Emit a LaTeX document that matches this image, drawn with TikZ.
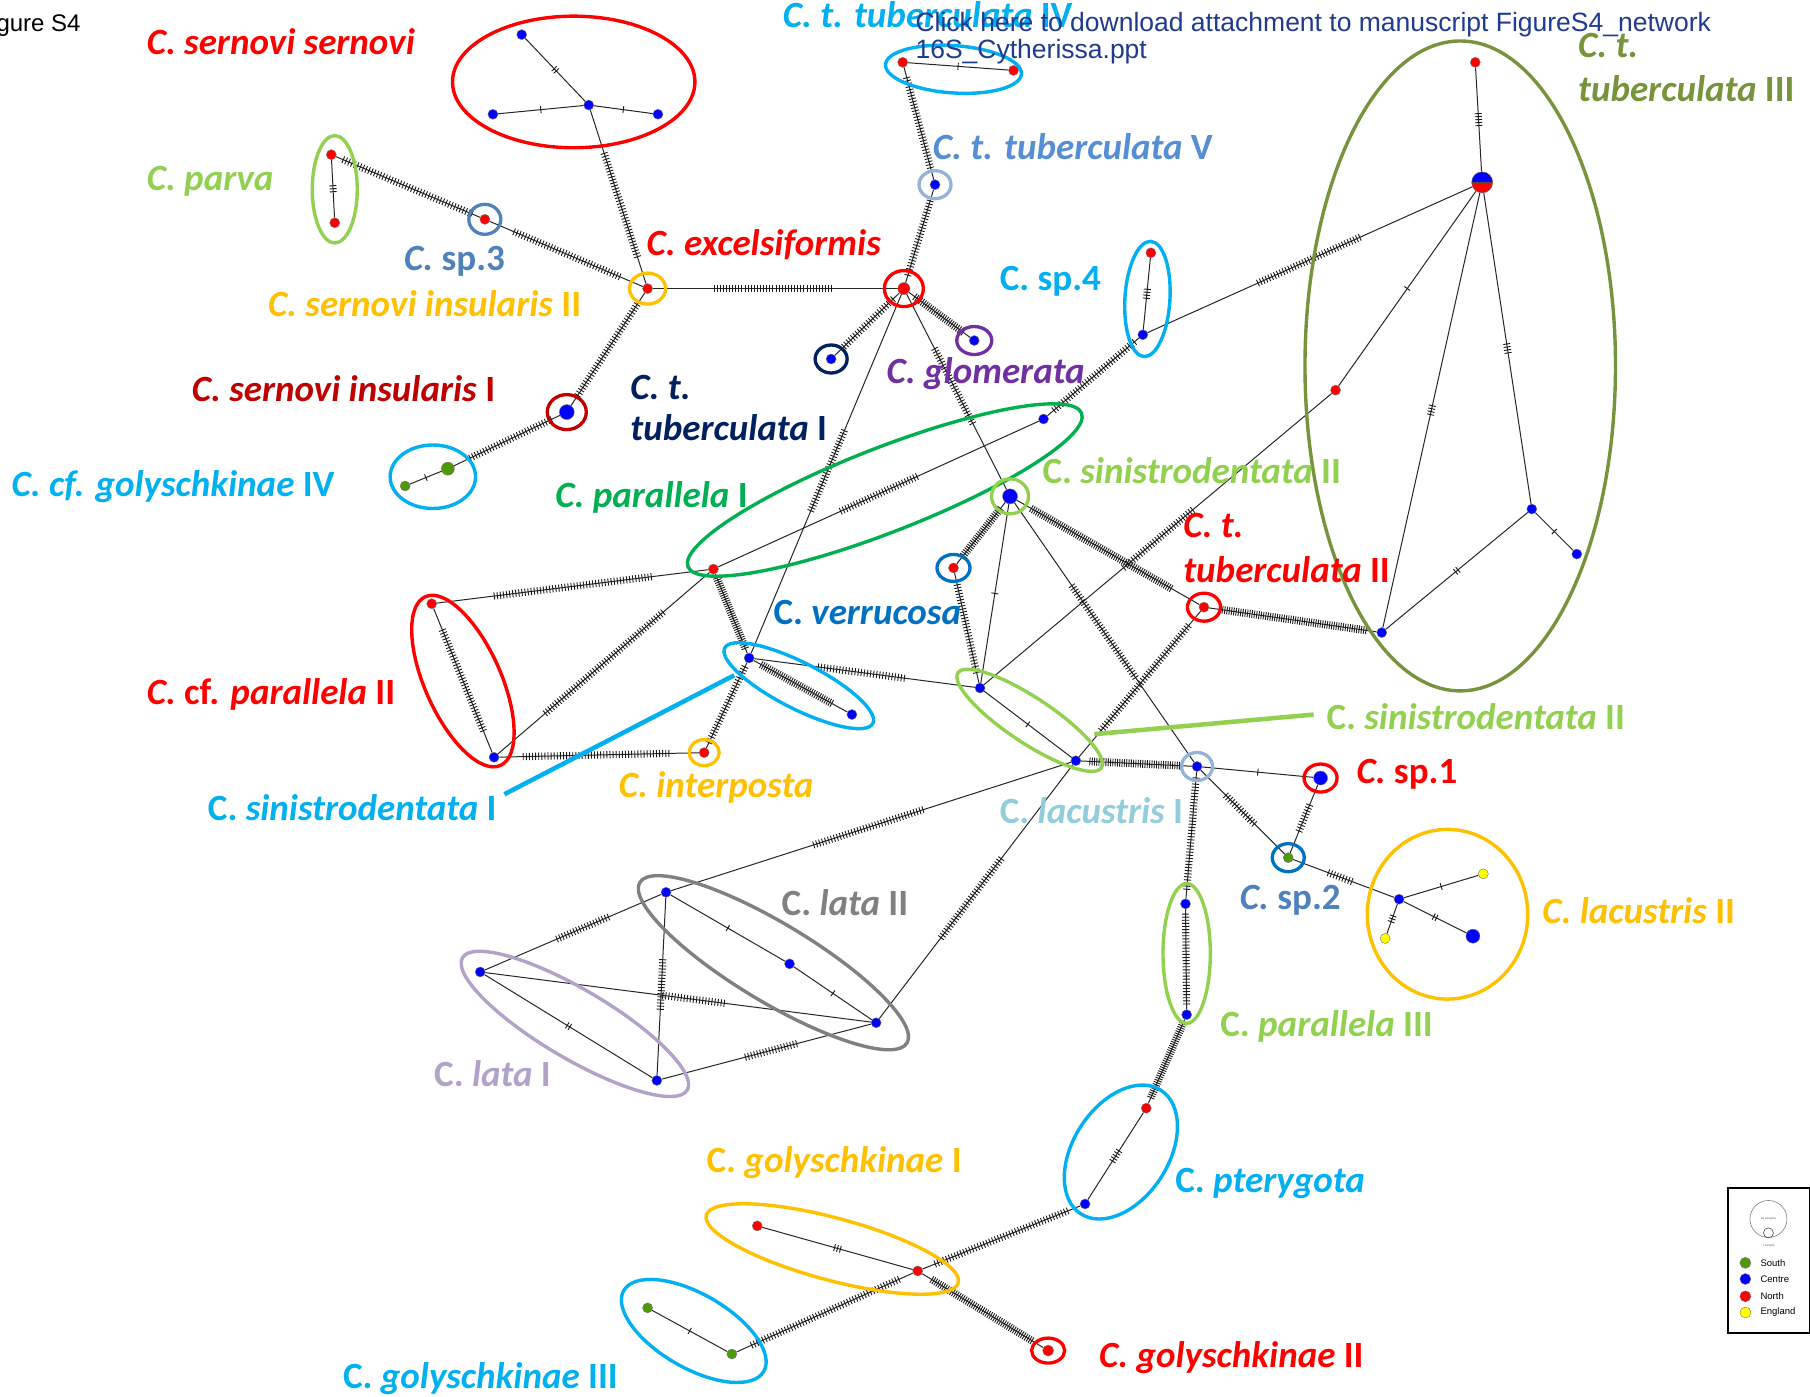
\documentclass[tikz,border=0pt]{standalone}
\usepackage{fontspec}
\setmainfont{Carlito}
\newfontfamily\arialf{Liberation Sans}
\usetikzlibrary{shapes.geometric,decorations.markings,backgrounds}
\definecolor{cRed}{HTML}{FF0000}
\definecolor{cDRed}{HTML}{C00000}
\definecolor{cOrange}{HTML}{FFC000}
\definecolor{cYG}{HTML}{92D050}
\definecolor{cGreen}{HTML}{00B050}
\definecolor{cOlive}{HTML}{77933C}
\definecolor{cSky}{HTML}{00B0F0}
\definecolor{cBlue}{HTML}{0070C0}
\definecolor{cSteel}{HTML}{4F81BD}
\definecolor{cSteelL}{HTML}{558ED5}
\definecolor{cRingL}{HTML}{95B3D7}
\definecolor{cLac}{HTML}{92CDDC}
\definecolor{cNavy}{HTML}{002060}
\definecolor{cPurple}{HTML}{7030A0}
\definecolor{cGray}{HTML}{808080}
\definecolor{cLav}{HTML}{B3A2C7}
\definecolor{hBlue}{HTML}{0000FF}
\definecolor{hRed}{HTML}{FF0000}
\definecolor{hGreen}{HTML}{4E9A06}
\definecolor{hYellow}{HTML}{FFFF00}
\definecolor{cLink}{HTML}{203A8F}
\newcommand\labf{\fontsize{37}{44}\selectfont\bfseries}
\begin{document}
\begin{tikzpicture}[x=1.1543pt,y=-1.1543pt,
  hap/.style={circle, fill=#1, draw=black!55, line width=0.4pt, inner sep=0pt, minimum size=10pt},
  ring/.style={ellipse, draw=#1, line width=3.3pt, inner sep=0pt},
  ell/.style={draw=#1, line width=3.4pt},
  ln/.style={draw=black!85, line width=1pt},
  tkl/.style={line width=0.9pt, draw=black!90},
  tk/.style={ln, postaction={decorate, decoration={markings, mark=at position 0.5 with {\foreach \k in {1,...,#1}{\draw[tkl] ({(\k-(#1+1)/2)*3pt},-3.5pt) -- ++(0pt,7pt);}}}}},
  hs/.style 2 args={ln, postaction={decorate, decoration={markings, mark=between positions #1 and #2 step 3.1pt with {\draw[tkl] (0pt,-3.6pt) -- (0pt,3.6pt);}}}},
  hst/.style 2 args={ln, postaction={decorate, decoration={markings, mark=between positions #1 and #2 step 2.3pt with {\draw[tkl] (0pt,-3.9pt) -- (0pt,3.9pt);}}}},
  lab/.style={anchor=base west, inner sep=0pt, font=\labf, text=#1},
  ptr/.style={draw=#1, line width=4.5pt}
]
\useasboundingbox (0,0) rectangle (1568,1210);

% ---------------- haplotype nodes ----------------
\node[hap=hBlue] (ss_top) at (452,30) {};
\node[hap=hBlue] (ss_c) at (510,91) {};
\node[hap=hBlue] (ss_l) at (427,99) {};
\node[hap=hBlue] (ss_r) at (570,99) {};
\node[hap=hRed] (parva_t) at (287,134) {};
\node[hap=hRed] (parva_b) at (290,193) {};
\node[hap=hRed] (sp3) at (420,190) {};
\node[hap=hRed] (sinsII) at (561,250) {};
\node[hap=hBlue, minimum size=15pt] (sinsI) at (491,357) {};
\node[hap=hGreen, minimum size=13pt] (gIV_a) at (388,406) {};
\node[hap=hGreen] (gIV_b) at (351,421) {};
\node[hap=hRed, minimum size=12pt] (exc) at (783,250) {};
\node[hap=hBlue] (tV) at (810,160) {};
\node[hap=hRed] (tIV_a) at (782,54) {};
\node[hap=hRed] (tIV_b) at (878,61) {};
\node[hap=hBlue] (tI) at (720,311) {};
\node[hap=hBlue] (glom) at (844,295) {};
\node[hap=hRed] (sp4_t) at (997,219) {};
\node[hap=hBlue] (sp4_b) at (990,290) {};
\node[hap=hRed] (t3_top) at (1278,54) {};
\node[circle, draw=black!60, line width=0.5pt, minimum size=21pt, inner sep=0pt, fill=hRed,
  path picture={\fill[hBlue] (path picture bounding box.west) rectangle (path picture bounding box.north east);
  \draw[black!70, line width=0.5pt] (path picture bounding box.west) -- (path picture bounding box.east);}] (t3_hub) at (1284,158) {};
\node[hap=hRed] (t3_red) at (1157,338) {};
\node[hap=hBlue] (t3_r) at (1327,441) {};
\node[hap=hBlue] (t3_rr) at (1366,480) {};
\node[hap=hBlue] (t3_b) at (1197,548) {};
\node[hap=hBlue] (p1_tr) at (904,363) {};
\node[hap=hRed] (p1_bl) at (618,493) {};
\node[hap=hBlue, minimum size=15pt] (s2_hub) at (875,430) {};
\node[hap=hRed] (verr) at (826,492) {};
\node[hap=hRed] (ctII) at (1043,526) {};
\node[hap=hBlue] (s1_t) at (649,570) {};
\node[hap=hBlue] (s1_b) at (738,619) {};
\node[hap=hRed] (cp_t) at (374,523) {};
\node[hap=hBlue] (cp_b) at (428,656) {};
\node[hap=hRed] (interp) at (610,652) {};
\node[hap=hBlue] (s2_t) at (849,596) {};
\node[hap=hBlue] (s2_b) at (932,659) {};
\node[hap=hBlue] (lacI) at (1037,664) {};
\node[hap=hBlue, minimum size=14pt] (sp1) at (1144,674) {};
\node[hap=hGreen] (sp2) at (1116,743) {};
\node[hap=hBlue] (l2_hub) at (1212,779) {};
\node[hap=hYellow] (l2_a) at (1285,757) {};
\node[hap=hYellow] (l2_b) at (1200,813) {};
\node[hap=hBlue, minimum size=14pt] (l2_c) at (1276,811) {};
\node[hap=hBlue] (p3_t) at (1027,783) {};
\node[hap=hBlue] (p3_b) at (1028,879) {};
\node[hap=hRed] (pt_t) at (993,960) {};
\node[hap=hBlue] (pt_b) at (940,1043) {};
\node[hap=hBlue] (la2_a) at (577,773) {};
\node[hap=hBlue] (la2_b) at (684,835) {};
\node[hap=hBlue] (la2_c) at (759,886) {};
\node[hap=hBlue] (la1_a) at (416,842) {};
\node[hap=hBlue] (la1_b) at (569,936) {};
\node[hap=hRed] (g1_a) at (656,1062) {};
\node[hap=hRed] (g1_b) at (795,1101) {};
\node[hap=hGreen] (g3_a) at (561,1133) {};
\node[hap=hGreen] (g3_b) at (634,1173) {};
\node[hap=hRed, minimum size=11pt] (g2) at (908,1170) {};

% ---------------- connectors ----------------
\begin{pgfonlayer}{background}
\fill[white] (0,0) rectangle (1568,1210);
\draw[tk=2] (ss_top) -- (ss_c);
\draw[tk=1] (ss_c) -- (ss_l);
\draw[tk=1] (ss_c) -- (ss_r);
\draw[hs={0.25}{0.86}] (ss_c) -- (sinsII);
\draw[tk=3] (parva_t) -- (parva_b);
\draw[hs={0.05}{0.95}] (parva_t) -- (sp3);
\draw[hs={0.16}{0.86}] (sp3) -- (sinsII);
\draw[hs={0.25}{0.74}] (sinsII) -- (exc);
\draw[hs={0.08}{0.92}] (sinsII) -- (sinsI);
\draw[hs={0.08}{0.85}] (sinsI) -- (gIV_a);
\draw[tk=1] (gIV_a) -- (gIV_b);
\draw[hs={0.08}{0.92}] (exc) -- (tV);
\draw[hs={0.08}{0.92}] (tV) -- (tIV_a);
\draw[tk=1] (tIV_a) -- (tIV_b);
\draw[hs={0.1}{0.9}] (exc) -- (tI);
\draw[hst={0.1}{0.9}] (exc) -- (glom);
\draw[hs={0.38}{0.61}] (exc) -- (s1_t);
\draw[hs={0.28}{0.67}] (exc) -- (s2_hub);
\draw[tk=4] (sp4_t) -- (sp4_b);
\draw[hs={0.05}{0.95}] (sp4_b) -- (p1_tr);
\draw[hs={0.34}{0.66}] (sp4_b) -- (t3_hub);
\draw[tk=5] (t3_top) -- (t3_hub);
\draw[tk=1] (t3_hub) -- (t3_red);
\draw[tk=4] (t3_hub) -- (t3_b);
\draw[tk=4] (t3_hub) -- (t3_r);
\draw[tk=1] (t3_r) -- (t3_rr);
\draw[tk=2] (t3_r) -- (t3_b);
\draw[hs={0.4}{0.6}] (t3_red) -- (s2_t);
\draw[hs={0.38}{0.62}] (p1_tr) -- (p1_bl);
\draw[hs={0.21}{0.79}] (p1_bl) -- (cp_t);
\draw[hs={0.22}{0.78}] (p1_bl) -- (cp_b);
\draw[hs={0.15}{0.85}] (cp_t) -- (cp_b);
\draw[hs={0.12}{0.85}] (cp_b) -- (interp);
\draw[hst={0.05}{0.95}] (p1_bl) -- (s1_t);
\draw[hs={0.05}{0.95}] (s1_t) -- (interp);
\draw[hst={0.08}{0.85}] (s1_t) -- (s1_b);
\draw[hs={0.29}{0.69}] (s1_t) -- (s2_t);
\draw[hst={0.1}{0.9}] (s2_hub) -- (verr);
\draw[hs={0.08}{0.92}] (verr) -- (s2_t);
\draw[tk=1] (s2_hub) -- (s2_t);
\draw[hst={0.08}{0.85}] (s2_hub) -- (ctII);
\draw[hs={0.32}{0.68}] (s2_hub) -- (lacI);
\draw[hst={0.08}{0.95}] (ctII) -- (t3_b);
\draw[hs={0.1}{0.82}] (ctII) -- (s2_b);
\draw[tk=1] (s2_t) -- (s2_b);
\draw[hst={0.08}{0.92}] (s2_b) -- (lacI);
\draw[hs={0.37}{0.65}] (s2_b) -- (la2_a);
\draw[hs={0.37}{0.69}] (s2_b) -- (la2_c);
\draw[tk=1] (lacI) -- (sp1);
\draw[hs={0.3}{0.65}] (lacI) -- (sp2);
\draw[hs={0.3}{0.7}] (sp1) -- (sp2);
\draw[hs={0.35}{0.6}] (sp2) -- (l2_hub);
\draw[tk=1] (l2_hub) -- (l2_a);
\draw[tk=3] (l2_hub) -- (l2_b);
\draw[tk=2] (l2_hub) -- (l2_c);
\draw[hs={0.05}{0.95}] (lacI) -- (p3_t);
\draw[hs={0.05}{0.95}] (p3_t) -- (p3_b);
\draw[hst={0.05}{0.95}] (p3_b) -- (pt_t);
\draw[tk=5] (pt_t) -- (pt_b);
\draw[hs={0.08}{0.92}] (pt_b) -- (g1_b);
\draw[tk=3] (g1_a) -- (g1_b);
\draw[hs={0.08}{0.92}] (g1_b) -- (g3_b);
\draw[hst={0.08}{0.92}] (g1_b) -- (g2);
\draw[tk=1] (g3_a) -- (g3_b);
\draw[tk=1] (la2_a) -- (la2_b);
\draw[tk=1] (la2_b) -- (la2_c);
\draw[hs={0.3}{0.6}] (la2_a) -- (la1_a);
\draw[hs={0.35}{0.63}] (la2_a) -- (la1_b);
\draw[tk=2] (la1_a) -- (la1_b);
\draw[hs={0.46}{0.62}] (la1_a) -- (la2_c);
\draw[hs={0.4}{0.65}] (la1_b) -- (la2_c);
\end{pgfonlayer}

% ---------------- group ellipses ----------------
\draw[ell=cRed] (497,71) ellipse [x radius=105, y radius=57];
\draw[ell=cYG] (290,164) ellipse [x radius=19.5, y radius=46.5];
\draw[ell=cSky] (375,413) ellipse [x radius=37, y radius=27.5];
\draw[ell=cSky, rotate around={-4:(826,60)}] (826,60) ellipse [x radius=59, y radius=20.5];
\draw[ell=cSky, rotate around={-3.4:(994,259)}] (994,259) ellipse [x radius=19.5, y radius=50];
\draw[ell=cOlive] (1265,317) ellipse [x radius=134.5, y radius=281.5];
\draw[ell=cGreen, rotate around={21.3:(766.5,424.5)}] (766.5,424.5) ellipse [x radius=183, y radius=36.5];
\draw[ell=cSky, rotate around={-27:(692,594)}] (692,594) ellipse [x radius=72, y radius=20];
\draw[ell=cRed, rotate around={-66:(401,590)}] (401,590) ellipse [x radius=80, y radius=33];
\draw[ell=cYG, rotate around={-33.5:(892,624)}] (892,624) ellipse [x radius=74.5, y radius=19.6];
\draw[ell=cOrange] (1254,792) ellipse [x radius=69.5, y radius=73.5];
\draw[ell=cYG] (1028,826) ellipse [x radius=20.5, y radius=60.5];
\draw[ell=cSky, rotate around={57:(971,998)}] (971,998) ellipse [x radius=63.8, y radius=41.2];
\draw[ell=cGray, rotate around={-31:(670,834)}] (670,834) ellipse [x radius=135, y radius=34];
\draw[ell=cLav, rotate around={-30.5:(498,887)}] (498,887) ellipse [x radius=113, y radius=30];
\draw[ell=cOrange, rotate around={-15:(721,1082)}] (721,1082) ellipse [x radius=113, y radius=27];
\draw[ell=cSky, rotate around={-30:(601,1153)}] (601,1153) ellipse [x radius=70, y radius=32];

% ---------------- rings ----------------
\node[ring=cSteel, minimum width=32pt, minimum height=30pt] (r_sp3) at (sp3) {};
\node[ring=cOrange, minimum width=36pt, minimum height=31pt] (r_sinsII) at (sinsII) {};
\node[ring=cDRed, minimum width=39pt, minimum height=35pt] (r_sinsI) at (sinsI) {};
\node[ring=cRed, minimum width=39pt, minimum height=36pt] (r_exc) at (exc) {};
\node[ring=cRingL, minimum width=32pt, minimum height=28pt] (r_tV) at (tV) {};
\node[ring=cNavy, minimum width=32pt, minimum height=28pt] (r_tI) at (tI) {};
\node[ring=cPurple, minimum width=35pt, minimum height=28pt] (r_glom) at (glom) {};
\node[ring=cYG, minimum width=37pt, minimum height=35pt] (r_s2hub) at (s2_hub) {};
\node[ring=cBlue, minimum width=33pt, minimum height=27pt] (r_verr) at (verr) {};
\node[ring=cRed, minimum width=33pt, minimum height=28pt] (r_ctII) at (ctII) {};
\node[ring=cOrange, minimum width=30pt, minimum height=26pt] (r_interp) at (interp) {};
\node[ring=cRingL, minimum width=31pt, minimum height=28pt] (r_lacI) at (lacI) {};
\node[ring=cRed, minimum width=33pt, minimum height=28pt] (r_sp1) at (sp1) {};
\node[ring=cBlue, minimum width=32pt, minimum height=28pt] (r_sp2) at (sp2) {};
\node[ring=cRed, minimum width=33pt, minimum height=25pt] (r_g2) at (g2) {};

% ---------------- pointer lines ----------------
\coordinate (p_s1a) at (437,688);
\coordinate (p_s1b) at (636,585);
\coordinate (p_s2a) at (1138,619);
\coordinate (p_s2b) at (948,636);
\draw[ptr=cSky] (p_s1a) -- (p_s1b);
\draw[ptr=cYG] (p_s2a) -- (p_s2b);

% ---------------- labels ----------------
\node[lab=cRed] (lab_ss) at (127,47) {\textit{C. sernovi sernovi}};
\node[lab=cYG] (lab_parva) at (127,165) {\textit{C. parva}};
\node[lab=cSteel] (lab_sp3) at (350,234) {\textit{C.} sp.3};
\node[lab=cRed] (lab_exc) at (560,221) {\textit{C. excelsiformis}};
\node[lab=cOrange] (lab_sins2) at (232,274) {\textit{C. sernovi insularis} II};
\node[lab=cDRed] (lab_sins1) at (166,348) {\textit{C. sernovi insularis} I};
\node[lab=cNavy] (lab_t1a) at (546,346) {\textit{C. t.}};
\node[lab=cNavy] (lab_t1b) at (546,382) {\textit{tuberculata} I};
\node[lab=cSky] (lab_g4) at (10,430) {\textit{C. cf. golyschkinae} IV};
\node[lab=cGreen] (lab_p1) at (481,440) {\textit{C. parallela} I};
\node[lab=cSky] (lab_t4) at (678,24) {\textit{C. t. tuberculata} IV};
\node[lab=cSteelL] (lab_t5) at (808,138) {\textit{C. t. tuberculata} V};
\node[lab=cSky] (lab_sp4) at (866,252) {C. sp.4};
\node[lab=cPurple] (lab_glom) at (768,332) {\textit{C. glomerata}};
\node[lab=cOlive] (lab_t3a) at (1367,50) {\textit{C. t.}};
\node[lab=cOlive] (lab_t3b) at (1367,88) {\textit{tuberculata} III};
\node[lab=cYG] (lab_s2a) at (903,419) {C. \textit{sinistrodentata} II};
\node[lab=cRed] (lab_t2a) at (1025,466) {\textit{C. t.}};
\node[lab=cRed] (lab_t2b) at (1025,505) {\textit{tuberculata} II};
\node[lab=cBlue] (lab_verr) at (670,541) {C. \textit{verrucosa}};
\node[lab=cRed] (lab_cp2) at (127,610) {\textit{C.} cf. \textit{parallela} II};
\node[lab=cSky] (lab_s1) at (180,711) {C. \textit{sinistrodentata} I};
\node[lab=cOrange] (lab_interp) at (536,691) {\textit{C. interposta}};
\node[lab=cYG] (lab_s2b) at (1149,632) {C. \textit{sinistrodentata} II};
\node[lab=cLac] (lab_lac1) at (866,713) {C. \textit{lacustris} I};
\node[lab=cRed] (lab_sp1) at (1175,679) {\textit{C.} sp.1};
\node[lab=cSteel] (lab_sp2) at (1074,788) {\textit{C.} sp.2};
\node[lab=cOrange] (lab_lac2) at (1336,800) {\textit{C. lacustris} II};
\node[lab=cGray] (lab_la2) at (677,793) {C. \textit{lata} II};
\node[lab=cYG] (lab_p3) at (1057,898) {C. \textit{parallela} III};
\node[lab=cLav] (lab_la1) at (376,941) {C. \textit{lata} I};
\node[lab=cSky] (lab_pt) at (1018,1033) {C. \textit{pterygota}};
\node[lab=cOrange] (lab_g1) at (612,1016) {C. \textit{golyschkinae} I};
\node[lab=cRed] (lab_g2) at (952,1185) {\textit{C. golyschkinae} II};
\node[lab=cSky] (lab_g3) at (297,1203) {C. \textit{golyschkinae} III};

% ---------------- header texts ----------------
\node[anchor=base east, inner sep=0pt, font=\arialf\fontsize{24}{28}\selectfont] (fig) at (70,27) {Figure S4};
\node[anchor=base west, inner sep=0pt, font=\arialf\fontsize{26.5}{28}\selectfont, text=cLink] (link1) at (793,27) {Click here to download attachment to manuscript FigureS4\_network};
\node[anchor=base west, inner sep=0pt, font=\arialf\fontsize{26.5}{28}\selectfont, text=cLink] (link2) at (793,51) {16S\_Cytherissa.ppt};

% ---------------- legend ----------------
\node[draw=black, line width=1.8pt, minimum width=82pt, minimum height=145pt, inner sep=0pt] (legend) at (1532.5,1092) {};
\node[circle, draw=black!50, line width=0.6pt, minimum size=37pt, inner sep=0pt] (leg_big) at (1532,1056) {};
\node[font=\arialf\fontsize{3}{4}\selectfont, text=black!60, inner sep=0pt] (leg_big_t) at (1532,1056) {10 samples};
\node[circle, draw=black!70, line width=0.6pt, minimum size=10pt, inner sep=0pt] (leg_small) at (1532,1068) {};
\node[font=\arialf\fontsize{3}{4}\selectfont, text=black!60, inner sep=0pt] (leg_small_t) at (1532,1079) {1 sample};
\node[hap=hGreen, minimum size=11pt] (leg_g) at (1512,1094) {};
\node[hap=hBlue, minimum size=11pt] (leg_b) at (1512,1108) {};
\node[hap=hRed, minimum size=11pt] (leg_r) at (1512,1123) {};
\node[hap=hYellow, minimum size=11pt] (leg_y) at (1512,1137) {};
\node[anchor=west, inner sep=0pt, font=\arialf\fontsize{9.5}{10}\selectfont] (leg_gt) at (1525,1094) {South};
\node[anchor=west, inner sep=0pt, font=\arialf\fontsize{9.5}{10}\selectfont] (leg_bt) at (1525,1108) {Centre};
\node[anchor=west, inner sep=0pt, font=\arialf\fontsize{9.5}{10}\selectfont] (leg_rt) at (1525,1123) {North};
\node[anchor=west, inner sep=0pt, font=\arialf\fontsize{9.5}{10}\selectfont] (leg_yt) at (1525,1137) {England};
\end{tikzpicture}
\end{document}
